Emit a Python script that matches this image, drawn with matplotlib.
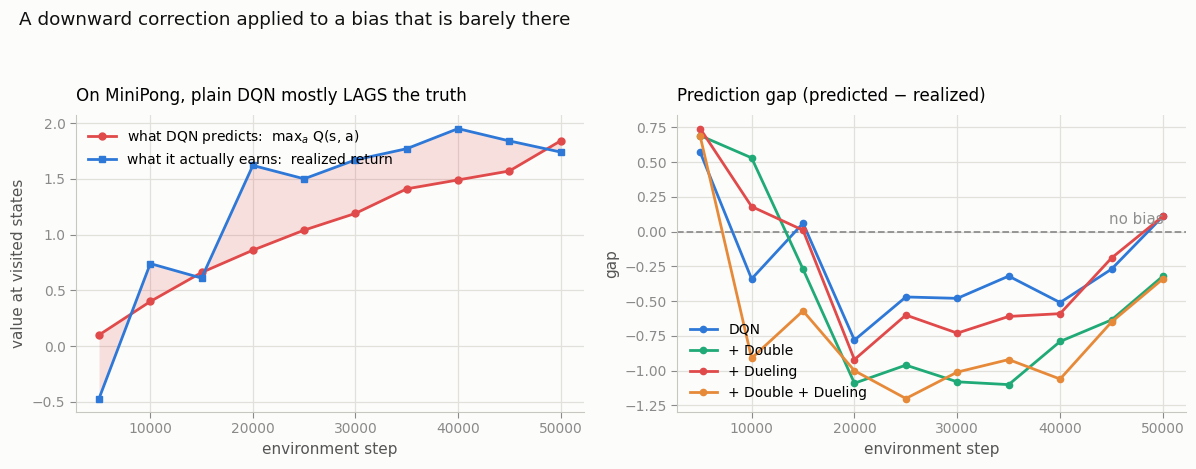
import matplotlib
matplotlib.use("Agg")
import matplotlib.pyplot as plt
import numpy as np

# ----------------------------------------------------
# DATA
# ----------------------------------------------------
steps = [5000, 10000, 15000, 20000, 25000, 30000, 35000, 40000, 45000, 50000]

predicted = [0.10, 0.40, 0.66, 0.86, 1.04, 1.19, 1.41, 1.49, 1.57, 1.84]
realized = [-0.47, 0.74, 0.61, 1.62, 1.50, 1.67, 1.77, 1.95, 1.84, 1.74]

gap_dqn = [0.57, -0.34, 0.06, -0.78, -0.47, -0.48, -0.32, -0.51, -0.27, 0.11]
gap_double = [0.69, 0.53, -0.27, -1.09, -0.96, -1.08, -1.10, -0.79, -0.635, -0.32]
gap_dueling = [0.74, 0.18, 0.01, -0.92, -0.60, -0.73, -0.61, -0.59, -0.19, 0.11]
gap_both = [0.685, -0.91, -0.57, -1.00, -1.20, -1.01, -0.92, -1.06, -0.65, -0.34]

gap_labels = ["DQN", "+ Double", "+ Dueling", "+ Double + Dueling"]

RED = "#e04a4a"
BLUE = "#2e78d8"
GREEN = "#1faa77"
ORANGE = "#e68a3a"
BG = "#fcfcfa"
GRID = "#e2e0db"
SPINE = "#c8c6c0"
TICK = "#8a8a8a"
LABEL = "#555555"


def style_axes(ax):
    ax.set_facecolor(BG)
    for side in ["top", "right"]:
        ax.spines[side].set_visible(False)
    for side in ["left", "bottom"]:
        ax.spines[side].set_color(SPINE)
    ax.grid(True, color=GRID, linewidth=0.9)
    ax.set_axisbelow(True)
    ax.tick_params(colors=TICK, labelsize=10, length=4)
    ax.set_xticks([10000, 20000, 30000, 40000, 50000])


fig = plt.figure(figsize=(11.96, 4.69), dpi=100, facecolor=BG)
ax1 = fig.add_axes([0.0635, 0.1215, 0.4245, 0.633])
ax2 = fig.add_axes([0.5661, 0.1215, 0.4256, 0.633])

fig.text(0.016, 0.958, "A downward correction applied to a bias that is barely there",
         fontsize=13.2, ha="left", va="center", color="#111111")

# ----------------------------------------------------
# LEFT: predicted vs realized
# ----------------------------------------------------
style_axes(ax1)
ax1.fill_between(steps, predicted, realized, color=RED, alpha=0.16, linewidth=0)
ax1.plot(steps, predicted, color=RED, marker="o", markersize=5, linewidth=2,
         label=r"what DQN predicts:  max$_a$ Q(s, a)")
ax1.plot(steps, realized, color=BLUE, marker="s", markersize=5, linewidth=2,
         label="what it actually earns:  realized return")
ax1.set_yticks([-0.5, 0.0, 0.5, 1.0, 1.5, 2.0])
ax1.set_xlabel("environment step", fontsize=11, color=LABEL)
ax1.set_ylabel("value at visited states", fontsize=11, color=LABEL)
ax1.set_title("On MiniPong, plain DQN mostly LAGS the truth", loc="left",
              fontsize=12.1, pad=10)
ax1.legend(loc="upper left", frameon=False, fontsize=10)

# ----------------------------------------------------
# RIGHT: prediction gap
# ----------------------------------------------------
style_axes(ax2)
ax2.axhline(0, color="#8f8f8f", linestyle="--", linewidth=1.3)
ax2.text(50050, 0.035, "no bias", color="#8f8f8f", fontsize=10.8, ha="right", va="bottom")
for vals, col, lab in zip([gap_dqn, gap_double, gap_dueling, gap_both],
                          [BLUE, GREEN, RED, ORANGE], gap_labels):
    ax2.plot(steps, vals, color=col, marker="o", markersize=4.5, linewidth=2, label=lab)
ax2.set_yticks([-1.25, -1.0, -0.75, -0.5, -0.25, 0.0, 0.25, 0.5, 0.75])
ax2.set_xlabel("environment step", fontsize=11, color=LABEL)
ax2.set_ylabel("gap", fontsize=11, color=LABEL)
ax2.set_title("Prediction gap (predicted \u2212 realized)", loc="left", fontsize=12.1, pad=10)
ax2.legend(loc="lower left", frameon=False, fontsize=10)

fig.savefig("out.png", dpi=100, facecolor=BG)
